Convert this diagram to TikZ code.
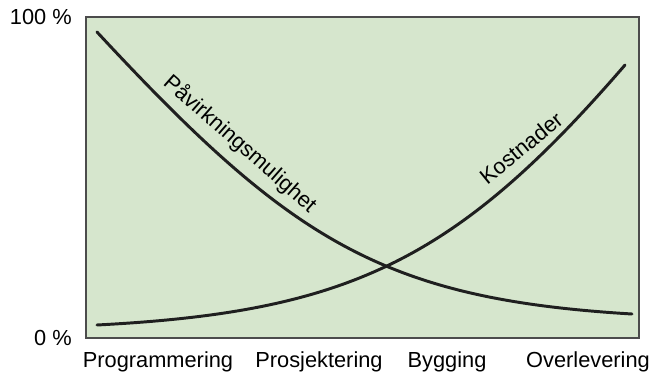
\documentclass[tikz,border=0pt]{standalone}
\usepackage{fontspec}
\setmainfont{Liberation Sans}
\usetikzlibrary{calc, positioning}
\definecolor{plotgreen}{RGB}{214,230,205}

\begin{document}
\begin{tikzpicture}[x=0.025cm, y=-0.025cm, font=\fontsize{15.5}{18}\selectfont,
    curve/.style={line width=2.1pt, draw=black!88, line cap=round},
    phase/.style={anchor=base, inner sep=0pt}]
    \useasboundingbox (0,0) rectangle (658,375);

    % plot area
    \coordinate (tl) at (86,17);
    \coordinate (br) at (639,338);
    \draw[fill=plotgreen, draw=black!70, line width=0.8pt] (tl) rectangle (br);

    % y labels
    \node[anchor=east, inner sep=0pt] (full) at (72,17) {100 \%};
    \node[anchor=east, inner sep=0pt] (zero) at (72,338) {0 \%};

    % phases
    \node[phase] (prog) at (158,367) {Programmering};
    \node[phase] (pros) at (319,367) {Prosjektering};
    \node[phase] (bygg) at (447,367) {Bygging};
    \node[phase] (over) at (588,367) {Overlevering};

    % curves
    \coordinate (pav0) at (97,32);
    \coordinate (pav1) at (632,314);
    \coordinate (kost0) at (97,325);
    \coordinate (kost1) at (625,65);
    \draw[curve] (pav0) .. controls (290,240) and (382,299) .. (pav1);
    \draw[curve] (kost0) .. controls (347,312) and (455,262) .. (kost1);

    \node[rotate=-41.3] (pav) at (240,144) {Påvirkningsmulighet};
    \node[rotate=39] (kost) at (521,148) {Kostnader};
\end{tikzpicture}
\end{document}
